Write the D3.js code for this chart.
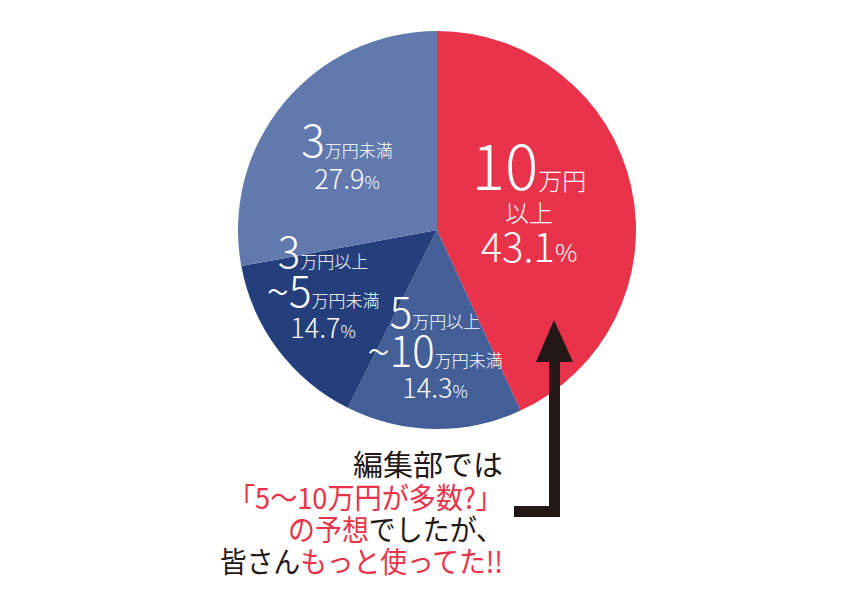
<!DOCTYPE html>
<html lang="ja">
<head>
<meta charset="utf-8">
<script src="https://cdn.jsdelivr.net/npm/d3@7"></script>
<style>
  html, body { margin: 0; padding: 0; background: #ffffff; }
  svg { display: block; }
  text { font-family: "Noto Sans CJK JP", "Noto Sans", sans-serif; }
</style>
</head>
<body>
<script>
// Monthly spending brackets and their shares (%), clockwise from 12 o'clock
const categories = ["10万円以上", "5万円以上~10万円未満", "3万円以上~5万円未満", "3万円未満"];
const shares = [43.1, 14.3, 14.7, 27.9];
const sliceColors = ["#e8334b", "#445e97", "#243f7b", "#6279ad"];

// Label pieces for each slice: lines of [text, role]
const labelLines = [
  [[["10", "bigNum"], ["万円", "bigUnit"]], [["以上", "bigUnit"]], "pct"],
  [[["5", "num"], ["万円以上", "unit"]], [["~10", "num"], ["万円未満", "unit"]], "pct"],
  [[["3", "num"], ["万円以上", "unit"]], [["~5", "num"], ["万円未満", "unit"]], "pct"],
  [[["3", "num"], ["万円未満", "unit"]], "pct"]
];

// Caption under the chart: each line is a list of [text, highlighted?]
const captionLines = [
  [["編集部では", false]],
  [["「5〜10万円が多数?」", true]],
  [["の予想", true], ["でしたが、", false]],
  [["皆さん", false], ["もっと使ってた!!", true]]
];

const W = 855, H = 600;
const cx = 437, cy = 230, R = 199;
const red = "#e8334b", ink = "#231815";

const svg = d3.select("body").append("svg")
  .attr("width", W).attr("height", H)
  .attr("viewBox", `0 0 ${W} ${H}`);

const pie = d3.pie().sort(null).value(d => d);
const arc = d3.arc().innerRadius(0).outerRadius(R);
const arcs = pie(shares);

const g = svg.append("g").attr("transform", `translate(${cx},${cy})`);
g.selectAll("path.slice")
  .data(arcs)
  .join("path")
  .attr("class", "slice")
  .attr("d", arc)
  .attr("fill", (d, i) => sliceColors[i]);

// Label layout per slice: centre x offset and line baselines (relative to pie centre)
const labelLayout = [
  { x: 92, base: [-40, -8, 32], size: { bigNum: 62, bigUnit: 24, pctNum: 40, pctSign: 25 } },
  { x: -2, base: [98, 137, 168], size: { num: 42, unit: 17, pctNum: 27, pctSign: 17 } },
  { x: -114, base: [38, 77, 108], size: { num: 42, unit: 17, pctNum: 27, pctSign: 17 } },
  { x: -90, base: [-73, -41], size: { num: 44, unit: 17, pctNum: 27, pctSign: 17 } }
];

arcs.forEach((a, i) => {
  const lay = labelLayout[i];
  const lines = labelLines[i];
  lines.forEach((line, li) => {
    const t = g.append("text")
      .attr("x", lay.x)
      .attr("y", lay.base[li])
      .attr("text-anchor", "middle")
      .attr("fill", "#ffffff");
    const segs = line === "pct"
      ? [[String(shares[i]), "pctNum"], ["%", "pctSign"]]
      : line;
    segs.forEach(([txt, role]) => {
      t.append("tspan")
        .attr("font-size", lay.size[role])
        .attr("font-weight", 300)
        .text(txt);
    });
  });
});

// Arrow pointing up into the largest slice
const arrow = d3.path();
arrow.moveTo(554, 320);
arrow.lineTo(573, 362);
arrow.lineTo(560, 362);
arrow.lineTo(560, 517);
arrow.lineTo(514, 517);
arrow.lineTo(514, 506);
arrow.lineTo(549, 506);
arrow.lineTo(549, 362);
arrow.lineTo(536, 362);
arrow.closePath();
svg.append("path").attr("d", arrow.toString()).attr("fill", ink);

// Caption, right-aligned, each line set to its typeset width
const capBase = [476, 509, 541, 573];
const capWidth = [150, 275, 215, 283];
captionLines.forEach((line, li) => {
  const t = svg.append("text")
    .attr("x", 503 - capWidth[li])
    .attr("y", capBase[li])
    .attr("text-anchor", "start")
    .attr("font-size", 29)
    .attr("textLength", capWidth[li])
    .attr("lengthAdjust", "spacingAndGlyphs");
  line.forEach(([txt, hi]) => {
    t.append("tspan").attr("fill", hi ? red : ink).text(txt);
  });
});
</script>
</body>
</html>
